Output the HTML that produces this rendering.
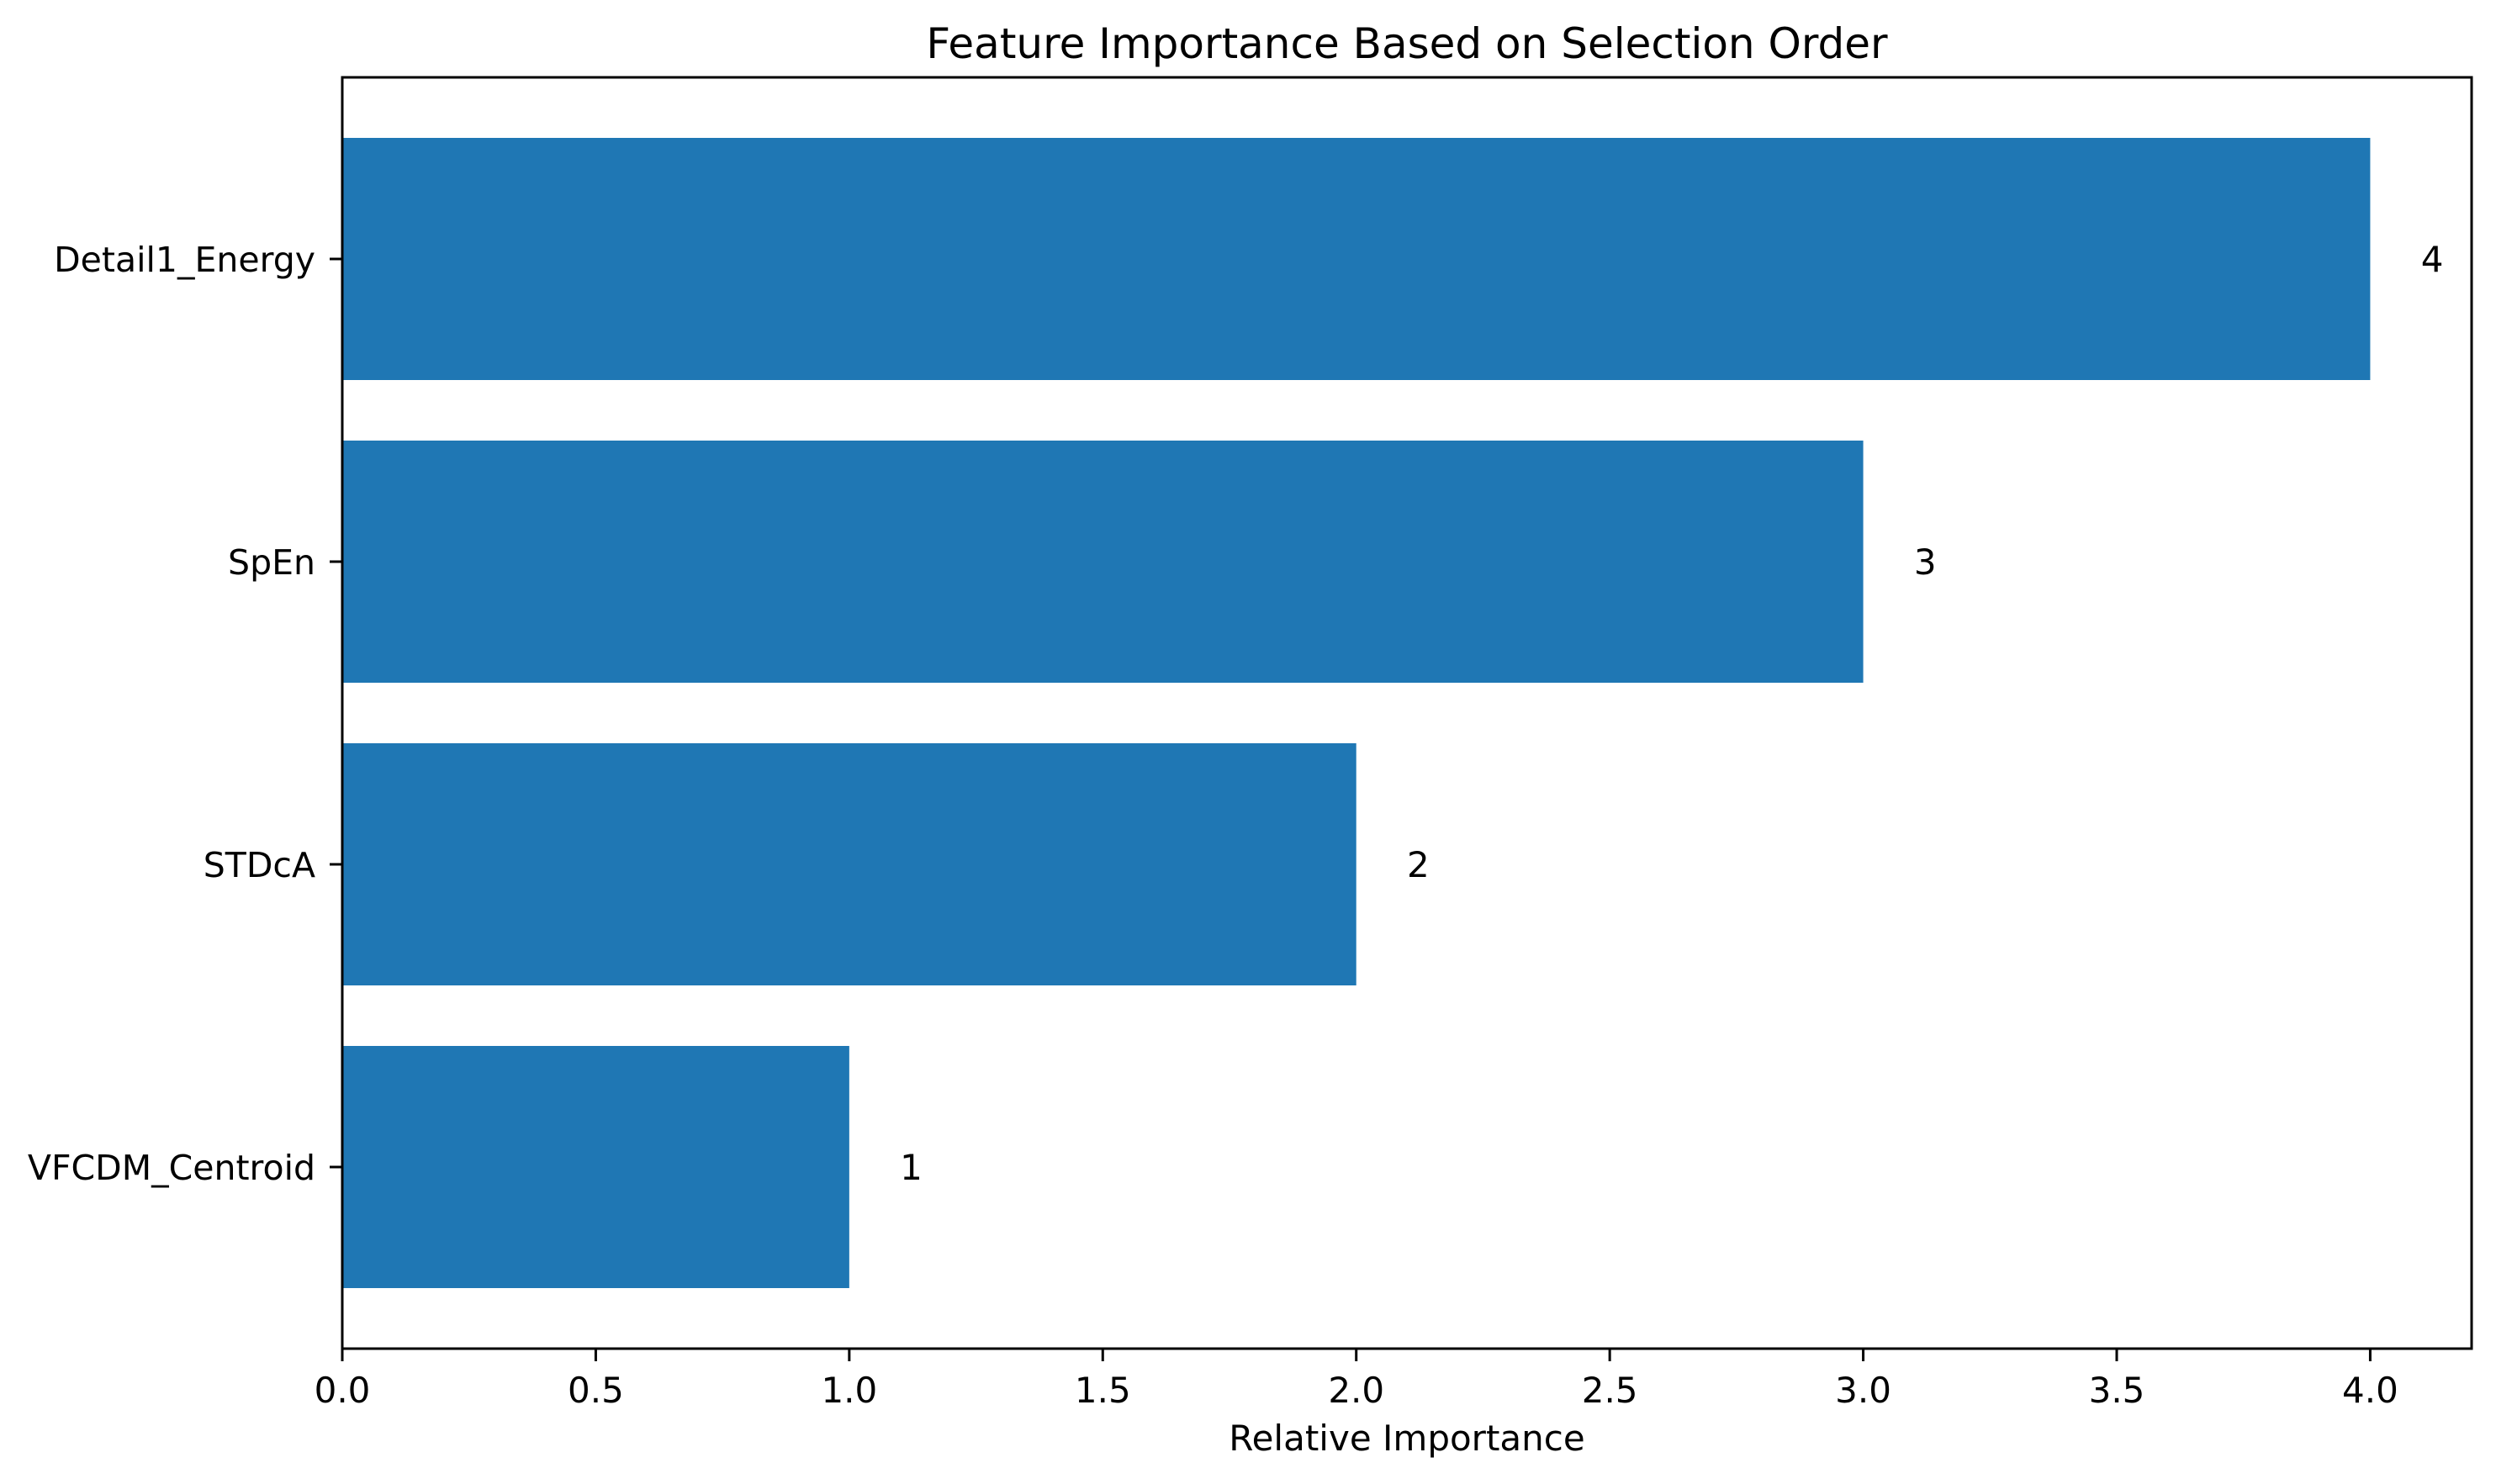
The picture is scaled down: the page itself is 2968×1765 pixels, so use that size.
<!DOCTYPE html>
<html><head><meta charset="utf-8"><style>
html,body{margin:0;padding:0;background:#fff;}
svg{display:block;font-family:"DejaVu Sans","Liberation Sans",sans-serif;}
</style></head><body>
<svg id="chart" width="2968" height="1765" viewBox="0 0 2968 1765" xmlns="http://www.w3.org/2000/svg">
<rect width="2968" height="1765" fill="#fff"/>
<text x="1673" y="69" font-size="50" text-anchor="middle">Feature Importance Based on Selection Order</text>
<text x="1673" y="1725" font-size="42" text-anchor="middle">Relative Importance</text>
<g id="plot"></g>
</svg>
<script>
const categories = ["VFCDM_Centroid", "STDcA", "SpEn", "Detail1_Energy"];
const values = [1, 2, 3, 4];
const valueLabels = ["1", "2", "3", "4"];
const xTicks = [0, 0.5, 1, 1.5, 2, 2.5, 3, 3.5, 4];
const xTickLabels = ["0.0", "0.5", "1.0", "1.5", "2.0", "2.5", "3.0", "3.5", "4.0"];

const L = 407, R = 2939, T = 92, B = 1604;
const xMin = 0, xMax = 4.2, yMin = -0.6, yMax = 3.6;
const barH = 0.8;
function xs(v){ return L + (v - xMin) / (xMax - xMin) * (R - L); }
function ys(v){ return B - (v - yMin) / (yMax - yMin) * (B - T); }
const NS = "http://www.w3.org/2000/svg";
const g = document.getElementById("plot");
function mk(tag, attrs){ const e = document.createElementNS(NS, tag); for (const k in attrs) e.setAttribute(k, attrs[k]); g.appendChild(e); return e; }

categories.forEach((c, i) => {
  const y0 = ys(i + barH/2), y1 = ys(i - barH/2);
  const bar = mk("rect", {x: xs(0), y: y0, width: xs(values[i]) - xs(0), height: y1 - y0, fill: "#1f77b4"});
  
  
  const vl = mk("text", {x: xs(values[i] + 0.1), y: ys(i) + 15, "font-size": 42});
  vl.textContent = valueLabels[i];
  
  
  const tk = mk("line", {x1: L - 15, x2: L, y1: ys(i), y2: ys(i), stroke: "#000", "stroke-width": 3});
  
  
  const tl = mk("text", {x: L - 32, y: ys(i) + 15, "font-size": 41, "text-anchor": "end"});
  tl.textContent = c;
  
  
});

xTicks.forEach((t, i) => {
  const tk = mk("line", {x1: xs(t), x2: xs(t), y1: B, y2: B + 15, stroke: "#000", "stroke-width": 3});
  
  
  const tl = mk("text", {x: xs(t), y: 1668, "font-size": 42, "text-anchor": "middle"});
  tl.textContent = xTickLabels[i];
  
  
});

const frame = mk("rect", {x: L, y: T, width: R - L, height: B - T, fill: "none", stroke: "#000", "stroke-width": 3});


</script>
</body></html>
